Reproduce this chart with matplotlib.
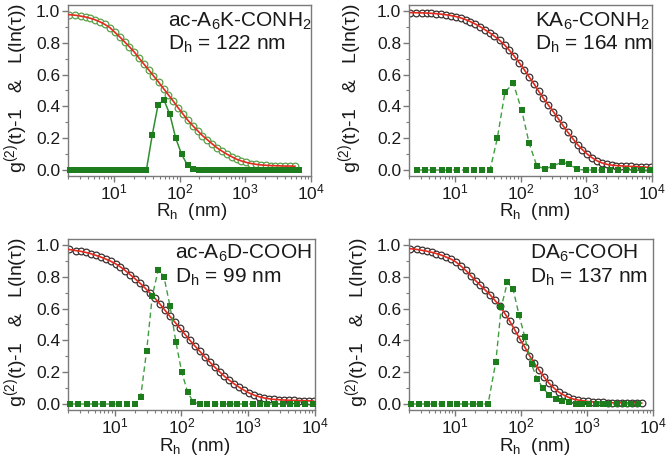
import matplotlib
matplotlib.use('Agg')
import matplotlib.pyplot as plt
from matplotlib.ticker import LogLocator, MultipleLocator, NullFormatter, FormatStrFormatter

plt.rcParams['font.family'] = ['Liberation Sans', 'DejaVu Sans']
plt.rcParams['mathtext.fontset'] = 'custom'
plt.rcParams['mathtext.rm'] = 'Liberation Sans'
plt.rcParams['mathtext.it'] = 'Liberation Sans:italic'
plt.rcParams['mathtext.bf'] = 'Liberation Sans:bold'

# ---------------- data ----------------
rh_grid = [2.05, 2.6, 3.1, 3.7, 4.4, 5.2, 6.2, 7.3, 8.7, 10.3, 12.2, 14.5, 17.2, 20.4,
           24.2, 28.7, 34, 40, 48, 57, 67, 80, 95, 113, 134, 159, 188, 223, 265, 314,
           372, 441, 523, 620, 736, 873, 1035, 1228, 1456, 1727, 2048, 2430, 2880,
           3420, 4050, 4800, 5700, 6760, 8020, 9500]

fit1 = [0.977, 0.973, 0.968, 0.962, 0.954, 0.944, 0.931, 0.915, 0.895, 0.866,
        0.838, 0.806, 0.775, 0.742, 0.703, 0.665, 0.629, 0.592, 0.552, 0.512,
        0.474, 0.433, 0.391, 0.351, 0.312, 0.278, 0.247, 0.216, 0.190, 0.164,
        0.139, 0.119, 0.100, 0.084, 0.068, 0.057, 0.048, 0.041, 0.036, 0.032,
        0.030, 0.028, 0.027, 0.026, 0.025, 0.025, 0.024]
fit2 = [0.990, 0.989, 0.988, 0.987, 0.985, 0.983, 0.980, 0.976, 0.971, 0.965,
        0.957, 0.946, 0.933, 0.918, 0.901, 0.882, 0.862, 0.841, 0.815, 0.786,
        0.754, 0.716, 0.675, 0.632, 0.587, 0.543, 0.496, 0.450, 0.408, 0.367,
        0.325, 0.280, 0.238, 0.198, 0.160, 0.128, 0.100, 0.077, 0.058, 0.045,
        0.036, 0.031, 0.028, 0.026, 0.024, 0.023, 0.022, 0.020, 0.018, 0.016]
fit3 = [0.972, 0.965, 0.960, 0.953, 0.945, 0.935, 0.924, 0.912, 0.898, 0.882,
        0.862, 0.838, 0.812, 0.786, 0.758, 0.728, 0.697, 0.665, 0.627, 0.588,
        0.552, 0.514, 0.476, 0.438, 0.400, 0.365, 0.332, 0.297, 0.264, 0.233,
        0.203, 0.174, 0.149, 0.126, 0.105, 0.086, 0.069, 0.056, 0.046, 0.038,
        0.033, 0.029, 0.027, 0.025, 0.024, 0.023, 0.022, 0.021, 0.020, 0.019]
fit4 = [0.977, 0.972, 0.967, 0.961, 0.954, 0.946, 0.936, 0.924, 0.911, 0.893,
        0.868, 0.840, 0.808, 0.776, 0.746, 0.716, 0.686, 0.652, 0.614, 0.568,
        0.522, 0.467, 0.411, 0.360, 0.305, 0.257, 0.213, 0.170, 0.131, 0.101,
        0.075, 0.057, 0.042, 0.031, 0.025, 0.020, 0.016, 0.013, 0.011, 0.010,
        0.009, 0.008, 0.008, 0.008, 0.007, 0.007, 0.007, 0.006]

dist1_x = [2.14, 2.63, 3.23, 3.97, 4.88, 5.99, 7.36, 9.05, 11.1, 13.7, 16.8, 20.6,
           25.4, 31.2, 38.3, 47.0, 57.8, 71.0, 87.3, 107, 132, 162, 199, 245, 301,
           369, 454, 558, 686, 843, 1035, 1272, 1563, 1921, 2360, 2901, 3565,
           4381, 5383, 6615]
dist1_y = [0, 0, 0, 0, 0, 0, 0, 0, 0, 0, 0, 0, 0, 0, 0.22, 0.41, 0.44, 0.35,
           0.20, 0.10, 0.03, 0.005, 0, 0, 0, 0, 0, 0, 0, 0, 0, 0, 0, 0, 0, 0,
           0, 0, 0, 0]
dist2_x = [2.62, 3.51, 4.69, 6.28, 8.13, 10.9, 14.6, 19.5, 25.6, 34.2, 44.2, 57.8,
           77.4, 104, 135, 176, 234, 316, 427, 550, 724, 989, 1309, 1738, 2291,
           3020, 3981, 5370, 7079, 9333]
dist2_y = [0, 0, 0, 0, 0, 0, 0, 0, 0, 0, 0.20, 0.49, 0.545, 0.375, 0.168, 0.027,
           0.006, 0.027, 0.049, 0.038, 0.004, 0, 0, 0, 0, 0, 0, 0, 0, 0]
dist3_x = [2.14, 2.85, 3.80, 5.07, 6.76, 9.02, 11.7, 15.5, 20.1, 24.5, 30.1, 36.6,
           45.0, 54.7, 67.3, 82.8, 101, 124, 150, 189, 243, 318, 414, 532, 685,
           893, 1164, 1496, 1928, 2512, 3273, 4217, 5420, 7079, 9226]
dist3_y = [0, 0, 0, 0, 0, 0, 0, 0, 0, 0.044, 0.335, 0.68, 0.845, 0.80, 0.617,
           0.388, 0.20, 0.075, 0.012, 0, 0, 0, 0, 0, 0, 0, 0, 0, 0, 0, 0, 0, 0,
           0, 0]
dist4_x = [2.17, 2.83, 3.71, 4.84, 6.32, 8.28, 10.8, 14.1, 18.5, 24.2, 31.6, 41.4,
           50.1, 62.1, 75.7, 93.3, 114, 144, 175, 216, 266, 337, 424, 536, 676,
           851, 1072, 1380, 1738, 2188, 2818, 3631, 4571, 5888]
dist4_y = [0, 0, 0, 0, 0, 0, 0, 0, 0, 0, 0, 0.265, 0.61, 0.765, 0.722, 0.558,
           0.42, 0.25, 0.157, 0.099, 0.057, 0.031, 0.019, 0.01, 0, 0, 0, 0, 0, 0,
           0, 0, 0, 0]

names = ['ac-A$_6$K-CONH$_2$', 'KA$_6$-CONH$_2$', 'ac-A$_6$D-COOH', 'DA$_6$-COOH']
dh_values = [122, 164, 99, 137]
x_ticks = [10, 100, 1000, 10000]
y_ticks = [0.0, 0.2, 0.4, 0.6, 0.8, 1.0]

# ---------------- layout (pixels) ----------------
W, H = 666, 459
fig = plt.figure(figsize=(W / 100, H / 100), dpi=100)

panels = [
    dict(box=(68, 4.6, 243, 171), fit=fit1, dx=dist1_x, dy=dist1_y, edge='#5aa04a', ls='-',
         tx=0.41, ty=0.734, ylx=16, xlc=192, xlb=216),
    dict(box=(409, 4.6, 243, 171), fit=fit2, dx=dist2_x, dy=dist2_y, edge='#3a3030', ls='--',
         tx=0.517, ty=0.734, ylx=350, xlc=535, xlb=216),
    dict(box=(68, 238.6, 247, 171), fit=fit3, dx=dist3_x, dy=dist3_y, edge='#3a3030', ls='--',
         tx=0.433, ty=0.744, ylx=16, xlc=195, xlb=451),
    dict(box=(409, 238.6, 244, 171), fit=fit4, dx=dist4_x, dy=dist4_y, edge='#3a3030', ls='--',
         tx=0.495, ty=0.744, ylx=357, xlc=535, xlb=451),
]

red = '#e52a1e'
sq_color = '#1d7d1d'
frame = '#7a7a7a'

for i, p in enumerate(panels):
    l, t, w, h = p['box']
    ax = fig.add_axes([l / W, (H - t - h) / H, w / W, h / H])
    n = len(p['fit'])
    xs = rh_grid[:n]
    ax.plot(xs, p['fit'], 'o', mfc='white', mec=p['edge'], ms=4.8, mew=0.9, zorder=2)
    ax.plot(xs, p['fit'], '-', color=red, lw=1.2, zorder=3)
    if p['ls'] == '-':
        ax.plot(p['dx'], p['dy'], '-', color='#2f8f2f', lw=1.1, zorder=4, clip_on=False)
    else:
        ax.plot(p['dx'], p['dy'], '-', color='#3f9f3f', lw=1.0, dashes=(4, 2.5), zorder=4,
                clip_on=False)
    ax.plot(p['dx'], p['dy'], 's', color=sq_color, ms=4.6, mew=0, zorder=5, clip_on=False)

    ax.set_xscale('log')
    ax.set_xlim(2, 10000)
    ax.set_ylim(-0.035, 1.04)
    ax.set_xticks(x_ticks)
    ax.xaxis.set_minor_locator(LogLocator(base=10, subs=range(2, 10)))
    ax.xaxis.set_minor_formatter(NullFormatter())
    ax.set_yticks(y_ticks)
    ax.yaxis.set_minor_locator(MultipleLocator(0.1))
    ax.yaxis.set_major_formatter(FormatStrFormatter('%.1f'))
    for s in ax.spines.values():
        s.set_color(frame)
        s.set_linewidth(1.0)
    ax.tick_params(which='major', direction='out', length=4, width=1, color=frame,
                   labelsize=12.5, labelcolor='#1a1a1a')
    ax.tick_params(which='minor', direction='out', length=2.2, width=0.8, color=frame)
    ax.tick_params(axis='y', pad=1.5)
    ax.tick_params(axis='x', pad=0.8)

    ax.text(p['tx'], p['ty'], names[i] + '\nD$_\\mathrm{h}$ = %d nm' % dh_values[i],
            transform=ax.transAxes, fontsize=15, va='baseline', ha='left',
            color='#1a1a1a', linespacing=1.12)

    yc = t + h / 2 - 2
    fig.text(p['ylx'] / W, 1 - yc / H, 'g$^{(2)}$(t)-1   &   L(ln(\u03c4))', rotation=90,
             ha='center', va='center', fontsize=14, color='#1a1a1a')
    fig.text(p['xlc'] / W, 1 - p['xlb'] / H, 'R$_\\mathrm{h}$  (nm)', ha='center',
             va='baseline', fontsize=13.5, color='#1a1a1a')

fig.savefig('out.png', dpi=100)
